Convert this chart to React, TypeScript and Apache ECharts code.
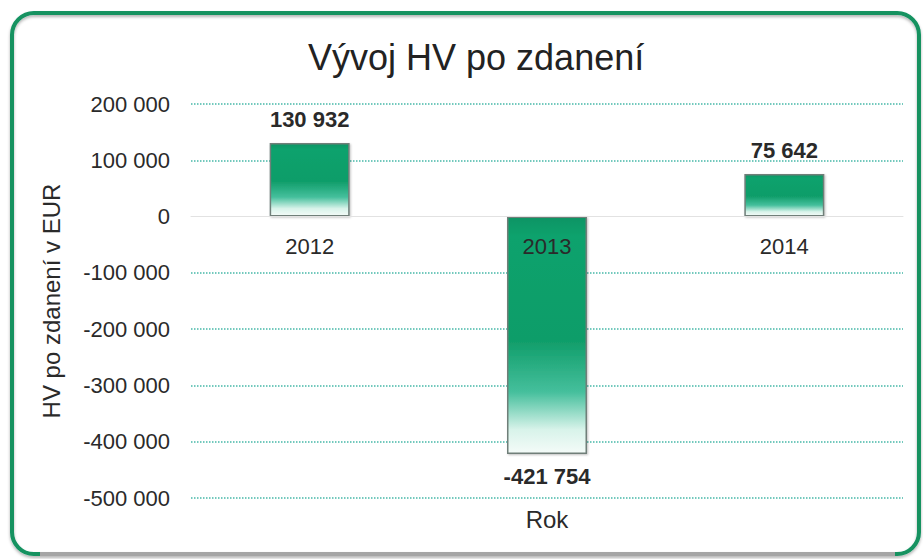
import React, { useEffect, useRef } from "react";
import * as echarts from "echarts";

const titleText = "Vývoj HV po zdanení";
const categories = ["2012", "2013", "2014"];
const values = [130932, -421754, 75642];
const yAxisName = "HV po zdanení v EUR";
const xAxisName = "Rok";

const FONT = "'Liberation Sans', Arial, sans-serif";

function fmt(v: number): string {
  const s = Math.abs(v).toString().replace(/\B(?=(\d{3})+(?!\d))/g, " ");
  return (v < 0 ? "-" : "") + s;
}

export default function App() {
  const ref = useRef<HTMLDivElement>(null);
  useEffect(() => {
    if (!ref.current) return;
    const chart = echarts.init(ref.current, null, { renderer: "svg" });
    const grid = "#45b8a8";
    const barGrad = new echarts.graphic.LinearGradient(0, 0, 0, 1, [
      { offset: 0, color: "#0c9464" },
      { offset: 0.08, color: "#10a26d" },
      { offset: 0.52, color: "#0f9d69" },
      { offset: 0.74, color: "#45bf9c" },
      { offset: 0.9, color: "#d8f3ea" },
      { offset: 1, color: "#f4fbf8" },
    ]);
    chart.setOption({
      animation: false,
      backgroundColor: "#ffffff",
      title: {
        text: titleText,
        left: 303,
        top: 34,
        textStyle: { fontFamily: FONT, fontSize: 36, fontWeight: "normal", color: "#222" },
      },
      graphic: [
        {
          type: "rect",
          shape: { x: 12, y: 13, width: 907, height: 541, r: 22 },
          style: {
            fill: "none",
            stroke: "#129260",
            lineWidth: 4,
            shadowColor: "rgba(0,0,0,0.3)",
            shadowBlur: 3,
            shadowOffsetY: 2,
          },
          z: -1,
        },
        {
          type: "line",
          shape: { x1: 40, y1: 554, x2: 895, y2: 554 },
          style: { stroke: "#a5a5a5", lineWidth: 4 },
          z: -1,
        },
        {
          type: "text",
          x: 547,
          y: 519,
          style: {
            text: xAxisName,
            fontFamily: FONT,
            fontSize: 24,
            fill: "#2a2a2a",
            textAlign: "center",
            textVerticalAlign: "middle",
          },
        },
      ],
      grid: { left: 191, right: 20, top: 104, bottom: 61 },
      xAxis: {
        type: "category",
        data: categories,
        z: 5,
        axisLine: { onZero: true, lineStyle: { color: "#e2e2e2", width: 1 } },
        axisTick: { show: false },
        axisLabel: { fontFamily: FONT, fontSize: 22, color: "#2a2a2a", margin: -263 },
        splitLine: { show: false },
      },
      yAxis: {
        type: "value",
        min: -500000,
        max: 200000,
        interval: 100000,
        name: yAxisName,
        nameLocation: "middle",
        nameGap: 128,
        nameTextStyle: { fontFamily: FONT, fontSize: 24, color: "#2a2a2a" },
        axisLine: { show: false },
        axisTick: { show: false },
        axisLabel: {
          fontFamily: FONT,
          fontSize: 22,
          color: "#2a2a2a",
          margin: 21,
          formatter: (v: number) => fmt(v),
        },
        splitLine: {
          show: true,
          lineStyle: {
            type: "dotted",
            width: 1.5,
            color: [grid, grid, grid, grid, grid, "rgba(0,0,0,0)", grid, grid],
          },
        },
      },
      series: [
        {
          type: "bar",
          barWidth: 80,
          data: values.map((v) => ({
            value: v,
            label: { position: v < 0 ? "bottom" : "top" },
          })),
          itemStyle: {
            color: barGrad,
            borderColor: "#6f7f79",
            borderWidth: 1.5,
            shadowColor: "rgba(0,0,0,0.25)",
            shadowBlur: 2,
            shadowOffsetX: 1,
            shadowOffsetY: 1,
          },
          label: {
            show: true,
            distance: 12,
            fontFamily: FONT,
            fontSize: 22,
            fontWeight: "bold",
            color: "#2a2a2a",
            formatter: (p: any) => fmt(p.value),
          },
        },
      ],
    });
    return () => chart.dispose();
  }, []);
  return (
    <div
      ref={ref}
      style={{ position: "absolute", left: 0, top: 0, width: 923, height: 559 }}
    />
  );
}
